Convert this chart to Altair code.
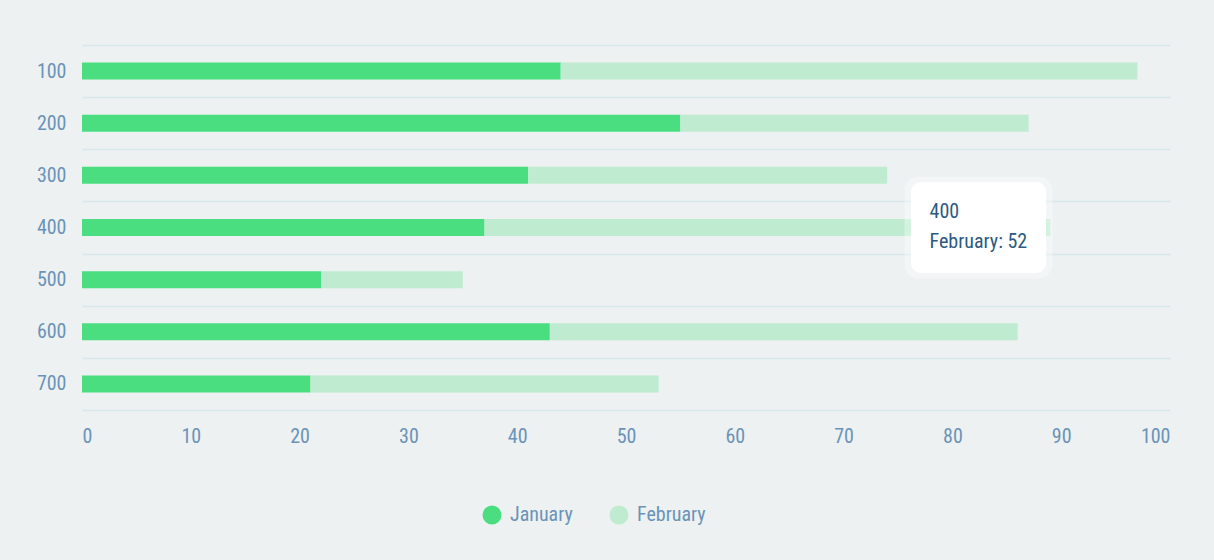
import altair as alt
import pandas as pd

categories = ["100", "200", "300", "400", "500", "600", "700"]
january = [44, 55, 41, 37, 22, 43, 21]
february = [53, 32, 33, 52, 13, 43, 32]
series_names = ["January", "February"]
series_colors = ["#4ade80", "#bfecd0"]
x_ticks = [0, 10, 20, 30, 40, 50, 60, 70, 80, 90, 100]

tip_category = "400"
tip_series = "February"
tip_value = 52

rows = []
for c, j, f in zip(categories, january, february):
    rows.append({"cat": c, "series": "January", "value": j, "order": 0})
    rows.append({"cat": c, "series": "February", "value": f, "order": 1})
df = pd.DataFrame(rows)

FONT = "Roboto Condensed, Liberation Sans Narrow, Roboto, sans-serif"
LABEL = "#6b93b8"
GRID = "#d8e6ee"
FS = 20

yscale = alt.Scale(paddingInner=0, paddingOuter=0)

bars = alt.Chart(df).mark_bar(size=17).encode(
    x=alt.X("value:Q", stack="zero",
            scale=alt.Scale(domain=[0, 100], nice=False),
            axis=alt.Axis(values=x_ticks, title=None, grid=False, ticks=False,
                          domain=False,
                          labelFlush=True, labelPadding=16, labelFontSize=FS,
                          labelColor=LABEL, labelFont=FONT)),
    y=alt.Y("cat:N", sort=categories, scale=yscale,
            axis=alt.Axis(title=None, domain=False, ticks=False, grid=True,
                          tickBand="extent", gridColor=GRID, gridWidth=1.5,
                          labelPadding=16, labelFontSize=FS, labelColor=LABEL,
                          labelFont=FONT)),
    color=alt.Color("series:N",
                    scale=alt.Scale(domain=series_names, range=series_colors),
                    legend=alt.Legend(title=None, orient="none", direction="horizontal",
                                      legendX=400, legendY=460, symbolType="circle",
                                      symbolSize=360, symbolStrokeWidth=0,
                                      labelFontSize=FS, labelColor=LABEL, labelFont=FONT,
                                      columnPadding=36, labelOffset=8)),
    order=alt.Order("order:Q"),
)

tip_df = pd.DataFrame([{
    "cat": tip_category,
    "x0": tip_value + 24.2, "x1": tip_value + 36.6,
    "h0": tip_value + 23.6, "h1": tip_value + 37.2,
    "tx": tip_value + 25.9,
    "line1": tip_category,
    "line2": f"{tip_series}: {tip_value}",
}])

halo = alt.Chart(tip_df).mark_bar(height=102, cornerRadius=14, color="#ffffff", opacity=0.35).encode(
    x="h0:Q", x2="h1:Q", y=alt.Y("cat:N", sort=categories, scale=yscale))
box = alt.Chart(tip_df).mark_bar(height=91, cornerRadius=10, color="#ffffff").encode(
    x="x0:Q", x2="x1:Q", y=alt.Y("cat:N", sort=categories, scale=yscale))
t1 = alt.Chart(tip_df).mark_text(align="left", baseline="middle", dy=-16, fontSize=FS,
                                 font=FONT, color="#2c5a82").encode(
    x="tx:Q", y=alt.Y("cat:N", sort=categories, scale=yscale), text="line1:N")
t2 = alt.Chart(tip_df).mark_text(align="left", baseline="middle", dy=14, fontSize=FS,
                                 font=FONT, color="#2c5a82").encode(
    x="tx:Q", y=alt.Y("cat:N", sort=categories, scale=yscale), text="line2:N")

chart = alt.layer(bars, halo, box, t1, t2).properties(
    width=1088, height=365,
    autosize=alt.AutoSizeParams(type="none"),
    padding={"left": 82, "top": 45, "right": 44, "bottom": 150},
    background="#edf1f1",
).configure_view(stroke=None)

chart.save("out.html", embed_options={"renderer": "svg", "actions": False})
